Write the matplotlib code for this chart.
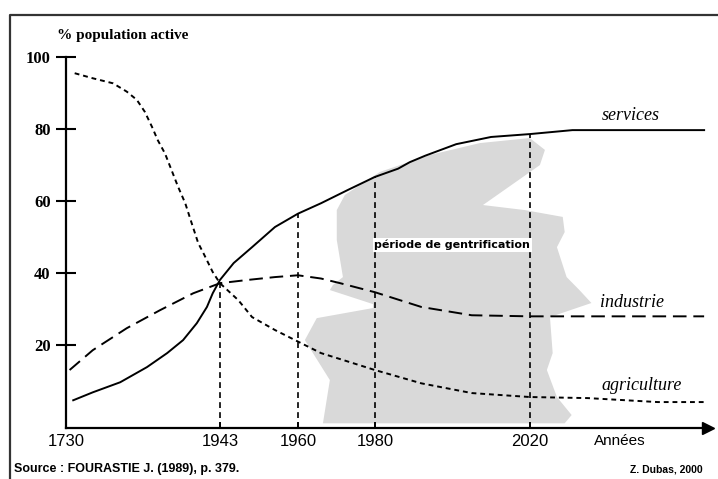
import matplotlib
matplotlib.use("Agg")
import matplotlib.pyplot as plt
import numpy as np

### DATA ###
years_agri = [1742, 1767, 1795, 1814, 1828, 1839, 1849, 1857, 1867, 1877, 1885,
              1895, 1904, 1913, 1920, 1933, 1943, 1947, 1950, 1955, 1960,
              1966, 1980, 1992, 2005, 2020, 2035, 2053, 2065]
agriculture = [95.5, 94.1, 92.7, 90.4, 88.1, 84.8, 80.6, 76.9, 73.2, 68.1, 64.0,
               59.4, 53.8, 48.3, 45.6, 40.3, 37.2, 32.5, 27.8, 24.2, 21.0,
               17.8, 13.1, 9.4, 6.7, 5.6, 5.3, 4.2, 4.2]

years_ind = [1735, 1767, 1814, 1860, 1906, 1943, 1949, 1955, 1960, 1966, 1971,
             1980, 1992, 2005, 2020, 2065]
industrie = [13.1, 18.6, 24.7, 29.7, 34.4, 37.2, 38.1, 38.9, 39.4, 38.5, 37.2,
             34.7, 30.6, 28.3, 28.0, 28.0]

years_serv = [1740, 1767, 1805, 1842, 1870, 1892, 1911, 1925, 1933, 1943, 1946,
              1950, 1955, 1960, 1966, 1973, 1980, 1986, 1989, 1993, 2001, 2010,
              2020, 2031, 2065]
services = [4.7, 6.9, 9.7, 13.9, 17.8, 21.4, 26.1, 30.6, 34.4, 38.1, 42.8,
            47.2, 52.8, 56.5, 59.4, 63.1, 66.7, 69.0, 70.8, 72.6, 75.8, 77.8,
            78.6, 79.7, 79.7]

# repères verticaux (année, valeur atteinte)
mark_years = [1943, 1960, 1980, 2020]
mark_vals = [37.5, 56.5, 66.8, 78.6]

xtick_years = [1730, 1943, 1960, 1980, 2020]
ytick_vals = [20, 40, 60, 80, 100]

# zone grisée "période de gentrification" (année, %)
blob_x = [1972.2, 1981.3, 1994.2, 2007.1, 2020, 2023.9, 2022.6, 2007.9, 2018.7,
          2028.5, 2029, 2027, 2029.5, 2032.8, 2035.9, 2025.2, 2025.9, 2024.4,
          2027, 2030.8, 2029, 1966.5, 1968.3, 1961.8, 1964.9, 1979.5, 1979.5,
          1968.3, 1969.1, 1971.7, 1970.1, 1970.1]
blob_y = [61.7, 68.1, 72.8, 76.1, 77.5, 74.2, 70, 58.9, 57.5,
          55.6, 51.4, 47.2, 38.9, 35.3, 31.7, 27.8, 17.8, 13.1,
          5.6, 0.6, -1.7, -1.7, 10.3, 21.4, 27.5, 30.3, 31.4,
          35.3, 36.7, 38.9, 49.2, 57.5]

### ECHELLE (axe des années non linéaire) ###
yr_anchor = [1700, 1730, 1943, 1960, 1980, 2020, 2100]
px_anchor = [44.3, 66, 220, 298, 375, 530, 840]


def fwd(x):
    return np.interp(x, yr_anchor, px_anchor)


def inv(p):
    return np.interp(p, px_anchor, yr_anchor)


W, H = 718, 479
fig = plt.figure(figsize=(W / 100, H / 100), dpi=100)
ax = fig.add_axes([66 / W, 51 / H, (708 - 66) / W, (428 - 57) / H])
ax.set_xscale('function', functions=(fwd, inv))
ax.set_xlim(1730, 2066)
ax.set_ylim(-3, 100)

# cadre
fig.add_artist(plt.Line2D([10 / W, 10 / W, 1], [0, 1 - 15 / H, 1 - 15 / H],
                          transform=fig.transFigure, color='#333333', lw=1.6))

ax.fill(blob_x, blob_y, color='#d9d9d9', lw=0, zorder=1)

ax.plot(years_serv, services, color='k', lw=1.4, zorder=3)
ax.plot(years_ind, industrie, color='k', lw=1.4, dashes=(7, 3.5), zorder=3)
ax.plot(years_agri, agriculture, color='k', lw=1.4, dashes=(2.5, 2), zorder=3)

for yr, v in zip(mark_years, mark_vals):
    ax.plot([yr, yr], [-3, v], color='k', lw=1.2, dashes=(3.5, 2.5), zorder=2)

ax.text(2000, 47.8, "période de gentrification", ha='center', va='center',
        fontsize=8, fontweight='bold', family='DejaVu Sans', zorder=4,
        bbox=dict(facecolor='white', edgecolor='none', pad=1))

lab_font = dict(family='Liberation Serif', style='italic', fontsize=13)
ax.text(2046, 81.5, "services", ha='center', va='bottom', **lab_font)
ax.text(2046.5, 29.5, "industrie", ha='center', va='bottom', **lab_font)
ax.text(2049, 6.5, "agriculture", ha='center', va='bottom', **lab_font)

# axes
for s in ['top', 'right']:
    ax.spines[s].set_visible(False)
for s in ['left', 'bottom']:
    ax.spines[s].set_linewidth(1.6)
ax.plot([1], [0], marker='>', markersize=9, color='k', transform=ax.transAxes,
        clip_on=False)

ax.set_yticks(ytick_vals)
ax.set_yticklabels([str(v) for v in ytick_vals], family='Liberation Serif',
                   fontweight='bold', fontsize=12)
ax.tick_params(axis='y', direction='inout', length=14, width=1.5, pad=4)

ax.set_xticks(xtick_years)
ax.set_xticklabels([str(v) for v in xtick_years], family='Liberation Sans',
                   fontsize=12)
ax.tick_params(axis='x', direction='in', length=4, width=1.2, pad=4)
ax.xaxis.get_major_ticks()[0].tick1line.set_visible(False)
ax.minorticks_off()

fig.text(57 / W, 1 - 36 / H, "% population active", ha='left', va='center',
         family='Liberation Serif', fontweight='bold', fontsize=11)
fig.text(620 / W, 1 - 441 / H, "Années", ha='center', va='center',
         family='Liberation Sans', fontsize=11)
fig.text(14 / W, 1 - 469 / H, "Source : FOURASTIE J. (1989), p. 379.",
         ha='left', va='center', family='Liberation Sans', fontweight='bold',
         fontsize=9)
fig.text(703 / W, 1 - 469 / H, "Z. Dubas, 2000", ha='right', va='center',
         family='Liberation Sans', fontweight='bold', fontsize=7.5)

fig.savefig("out.png", dpi=100)
